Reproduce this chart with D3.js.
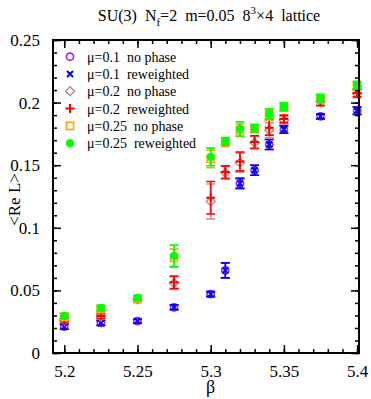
<!DOCTYPE html>
<html>
<head>
<meta charset="utf-8">
<script src="https://cdn.jsdelivr.net/npm/d3@7"></script>
<style>
  body { margin: 0; background: #fff; }
  .legend text { white-space: pre; }
</style>
</head>
<body>
<svg id="chart" width="371" height="399"></svg>
<script>
// beta values and <Re L> per series
const beta = [5.2, 5.225, 5.25, 5.275, 5.3, 5.31, 5.32, 5.33, 5.34, 5.35, 5.375, 5.4];

const mu01NoPhase    = [0.021, 0.024, 0.0255, 0.0365, 0.047, 0.066, 0.1355, 0.146, 0.1665, 0.1785, 0.189, 0.1935];
const mu01NoPhaseErr = [0.002, 0.002, 0.0015, 0.002, 0.002, 0.006, 0.004, 0.004, 0.004, 0.003, 0.002, 0.003];
const mu01Rew        = [0.021, 0.024, 0.0255, 0.0365, 0.047, 0.066, 0.1355, 0.146, 0.1665, 0.1785, 0.189, 0.1935];
const mu01RewErr     = [0.002, 0.002, 0.0015, 0.002, 0.002, 0.006, 0.004, 0.004, 0.004, 0.003, 0.002, 0.003];

const mu02NoPhase    = [0.026, 0.029, 0.043, 0.056, 0.121, 0.144, 0.152, 0.168, 0.178, 0.186, 0.201, 0.207];
const mu02NoPhaseErr = [0.002, 0.002, 0.002, 0.005, 0.014, 0.005, 0.0075, 0.005, 0.006, 0.003, 0.003, 0.003];
const mu02Rew        = [0.026, 0.0295, 0.043, 0.0565, 0.124, 0.1445, 0.153, 0.1685, 0.180, 0.187, 0.2005, 0.2077];
const mu02RewErr     = [0.002, 0.002, 0.002, 0.005, 0.013, 0.005, 0.0075, 0.005, 0.006, 0.003, 0.003, 0.003];

const mu025NoPhase    = [0.029, 0.035, 0.043, 0.076, 0.155, 0.168, 0.178, 0.179, 0.190, 0.196, 0.203, 0.213];
const mu025NoPhaseErr = [0.002, 0.002, 0.002, 0.007, 0.007, 0.003, 0.005, 0.003, 0.004, 0.003, 0.003, 0.003];
const mu025Rew        = [0.0296, 0.036, 0.044, 0.0775, 0.1566, 0.169, 0.179, 0.1797, 0.191, 0.197, 0.2036, 0.214];
const mu025RewErr     = [0.002, 0.002, 0.002, 0.0087, 0.007, 0.003, 0.0057, 0.003, 0.004, 0.003, 0.003, 0.003];

const seriesLabels = ["μ=0.1  no phase", "μ=0.1  reweighted", "μ=0.2  no phase",
                      "μ=0.2  reweighted", "μ=0.25  no phase", "μ=0.25  reweighted"];

const xTicks = [5.2, 5.25, 5.3, 5.35, 5.4];
const yTicks = [0, 0.05, 0.1, 0.15, 0.2, 0.25];

const series = [
  { label: seriesLabels[0], y: mu01NoPhase,  err: mu01NoPhaseErr,  color: "#a020f0", sym: "circle" },
  { label: seriesLabels[1], y: mu01Rew,      err: mu01RewErr,      color: "#0000ff", sym: "cross" },
  { label: seriesLabels[2], y: mu02NoPhase,  err: mu02NoPhaseErr,  color: "#bc8f8f", sym: "diamond" },
  { label: seriesLabels[3], y: mu02Rew,      err: mu02RewErr,      color: "#ff0000", sym: "plus" },
  { label: seriesLabels[4], y: mu025NoPhase, err: mu025NoPhaseErr, color: "#ffa500", sym: "square" },
  { label: seriesLabels[5], y: mu025Rew,     err: mu025RewErr,     color: "#00ff00", sym: "star" }
];

const serif = "'Liberation Serif', 'DejaVu Serif', serif";

const width = 371, height = 399;
const padding = { left: 53, right: 12, top: 40, bottom: 46 };
const innerWidth = width - padding.left - padding.right;
const innerHeight = height - padding.top - padding.bottom;

const x = d3.scaleLinear().domain([5.1923, 5.4013]).range([0, innerWidth]);
const y = d3.scaleLinear().domain([0, 0.25]).range([innerHeight, 0]);

const svg = d3.select("#chart");
const g = svg.append("g").attr("transform", `translate(${padding.left},${padding.top})`);

// draws one marker shape at (0,0)
function marker(sel, sym, color) {
  if (sym === "circle") {
    sel.append("circle").attr("r", 3.6).attr("fill", "none").attr("stroke", color).attr("stroke-width", 1.6);
  } else if (sym === "cross") {
    sel.append("path").attr("d", "M-3,-3L3,3M-3,3L3,-3").attr("stroke", color).attr("stroke-width", 2);
  } else if (sym === "diamond") {
    sel.append("path").attr("d", "M0,-4.5L4.5,0L0,4.5L-4.5,0Z").attr("fill", "none").attr("stroke", color).attr("stroke-width", 1.5);
  } else if (sym === "plus") {
    sel.append("path").attr("d", "M-4.5,0L4.5,0M0,-4.5L0,4.5").attr("stroke", color).attr("stroke-width", 2);
  } else if (sym === "square") {
    sel.append("rect").attr("x", -3.6).attr("y", -3.6).attr("width", 7.2).attr("height", 7.2)
      .attr("fill", "none").attr("stroke", color).attr("stroke-width", 1.6);
  } else if (sym === "star") {
    sel.append("path").attr("d", "M-4,0L4,0M0,-4L0,4M-3,-3L3,3M-3,3L3,-3M-1.6,-3.8L1.6,3.8M1.6,-3.8L-1.6,3.8M-3.8,-1.6L3.8,1.6M-3.8,1.6L3.8,-1.6")
      .attr("stroke", color).attr("stroke-width", 1.6);
  }
}

// data series with error bars
series.forEach(s => {
  const pts = beta.map((b, i) => ({ b: b, v: s.y[i], e: s.err[i] }));
  const grp = g.append("g").attr("class", "series");
  grp.selectAll(".err")
    .data(pts)
    .enter()
    .append("path")
    .attr("class", "err")
    .attr("fill", "none")
    .attr("stroke", s.color)
    .attr("stroke-width", 1.6)
    .attr("d", d => {
      const cx = x(d.b), y0 = y(d.v - d.e), y1 = y(d.v + d.e);
      return `M${cx},${y0}L${cx},${y1}M${cx - 4.5},${y0}L${cx + 4.5},${y0}M${cx - 4.5},${y1}L${cx + 4.5},${y1}`;
    });
  grp.selectAll(".pt")
    .data(pts)
    .enter()
    .append("g")
    .attr("class", "pt")
    .attr("transform", d => `translate(${x(d.b)},${y(d.v)})`)
    .each(function() { marker(d3.select(this), s.sym, s.color); });
});

// axes: ticks pointing inward on all four sides
const xMinor = d3.range(5.2, 5.4001, 0.01).map(v => +v.toFixed(3));
const yMinor = d3.range(0, 0.2501, 0.01).map(v => +v.toFixed(3));

function tickAxis(axisFn, scale, vals, size) {
  return axisFn(scale).tickValues(vals).tickSizeInner(size).tickSizeOuter(0);
}

// label-free tick rows (minor ticks, top and right majors)
function bareTicks(axisFn, scale, vals, size, tx) {
  const a = g.append("g").attr("transform", tx).call(tickAxis(axisFn, scale, vals, size));
  a.selectAll(".tick text").remove();
}

bareTicks(d3.axisBottom, x, xMinor, -4, `translate(0,${innerHeight})`);
bareTicks(d3.axisTop, x, xMinor, -4, null);
bareTicks(d3.axisTop, x, xTicks, -8, null);
bareTicks(d3.axisLeft, y, yMinor, -4, null);
bareTicks(d3.axisRight, y, yMinor, -4, `translate(${innerWidth},0)`);
bareTicks(d3.axisRight, y, yTicks, -8, `translate(${innerWidth},0)`);

g.append("g")
  .attr("class", "xlab")
  .attr("transform", `translate(0,${innerHeight})`)
  .call(tickAxis(d3.axisBottom, x, xTicks, -8).tickFormat(d => String(d)).tickPadding(12));
g.append("g")
  .attr("class", "ylab")
  .call(tickAxis(d3.axisLeft, y, yTicks, -8).tickFormat(d => String(d)).tickPadding(13));

g.selectAll(".domain").remove();
g.selectAll(".tick line").attr("stroke", "#000").attr("stroke-width", 1.5);
g.selectAll(".xlab text, .ylab text")
  .attr("font-family", serif)
  .attr("font-size", 17)
  .attr("fill", "#000");

g.append("rect")
  .attr("width", innerWidth)
  .attr("height", innerHeight)
  .attr("fill", "none")
  .attr("stroke", "#000")
  .attr("stroke-width", 2);

// legend
const legend = g.append("g").attr("class", "legend");
series.forEach((s, i) => {
  const ly = 16.7 + i * 17.3;
  const m = legend.append("g").attr("transform", `translate(17,${ly})`);
  marker(m, s.sym, s.color);
  legend.append("text")
    .attr("x", 34)
    .attr("y", ly + 5)
    .attr("font-family", serif)
    .attr("font-size", 14)
    .text(s.label);
});

// axis titles
g.append("text")
  .attr("x", x(5.3))
  .attr("y", innerHeight + 40)
  .attr("text-anchor", "middle")
  .attr("font-family", serif)
  .attr("font-size", 18)
  .text("β");

g.append("text")
  .attr("transform", `translate(${-padding.left + 20},${innerHeight / 2 + 3})rotate(-90)`)
  .attr("text-anchor", "middle")
  .attr("font-family", serif)
  .attr("font-size", 17)
  .text("<Re L>");

// title with subscript and superscript
const title = svg.append("text")
  .attr("x", 209)
  .attr("y", 21)
  .attr("text-anchor", "middle")
  .attr("font-family", serif)
  .attr("font-size", 16)
  .style("white-space", "pre");
title.append("tspan").text("SU(3)  N");
title.append("tspan").attr("font-size", 11).attr("dy", 5).text("f");
title.append("tspan").attr("dy", -5).text("=2  m=0.05  8");
title.append("tspan").attr("font-size", 11).attr("dy", -7).text("3");
title.append("tspan").attr("dy", 7).text("×4  lattice");
</script>
</body>
</html>
